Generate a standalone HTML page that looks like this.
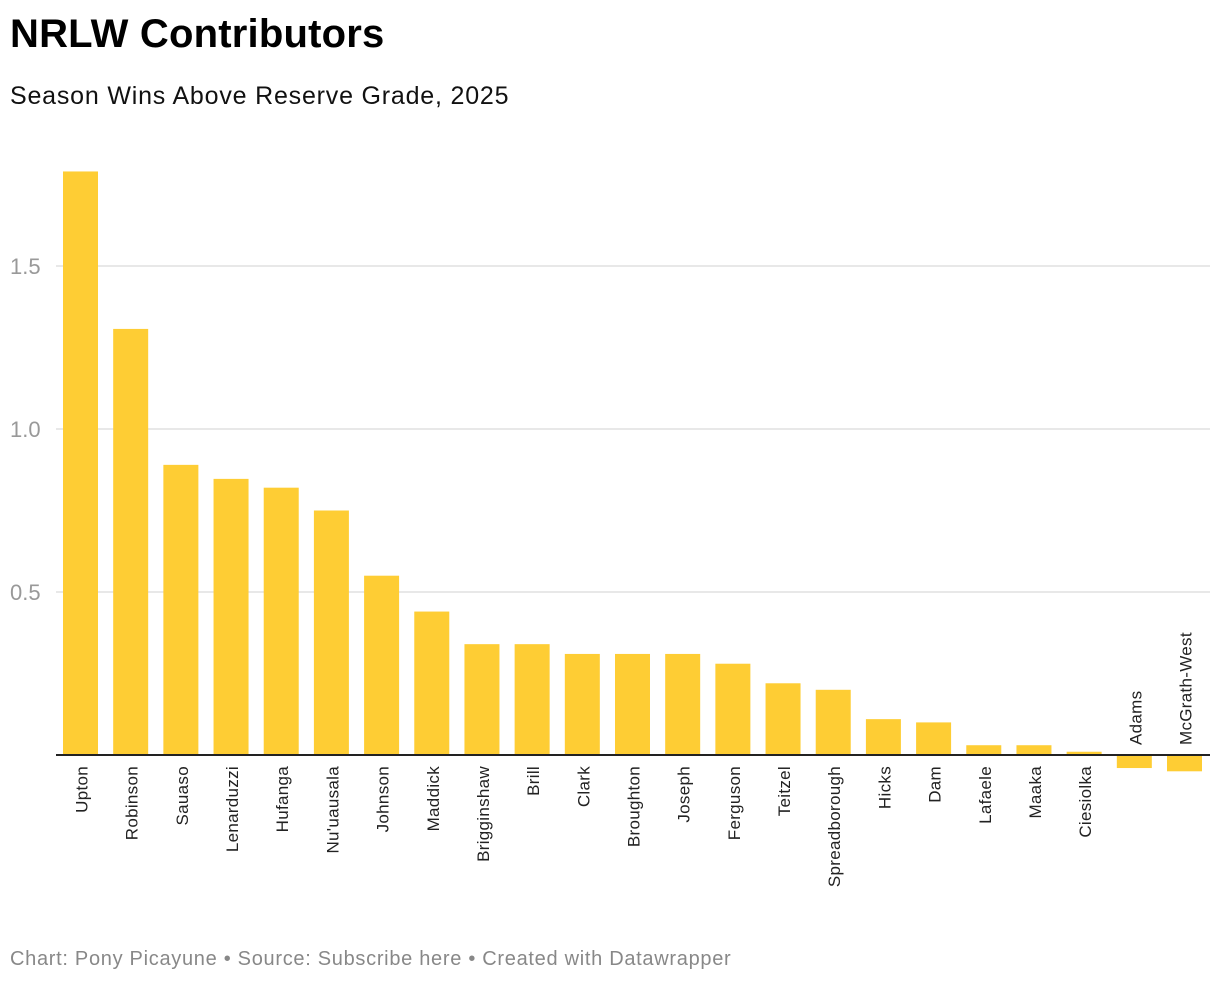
<!DOCTYPE html>
<html><head><meta charset="utf-8"><style>
body{margin:0;background:#fff;font-family:"Liberation Sans",sans-serif;}
#t{position:absolute;left:10px;top:12px;font-size:40px;font-weight:bold;color:#000;letter-spacing:0.2px}
#s{position:absolute;left:10px;top:82px;font-size:25px;color:#111;letter-spacing:0.8px}
#f{position:absolute;left:10px;top:948px;font-size:20px;color:#888;letter-spacing:0.7px}
svg{position:absolute;left:0;top:0}
</style></head><body>
<div id="t">NRLW Contributors</div>
<div id="s">Season Wins Above Reserve Grade, 2025</div>
<svg id="c" width="1220" height="984"></svg>
<div id="f">Chart: Pony Picayune • Source: Subscribe here • Created with Datawrapper</div>
<script>
const categories=["Upton","Robinson","Sauaso","Lenarduzzi","Hufanga","Nu'uausala","Johnson","Maddick","Brigginshaw","Brill","Clark","Broughton","Joseph","Ferguson","Teitzel","Spreadborough","Hicks","Dam","Lafaele","Maaka","Ciesiolka","Adams","McGrath-West"];
const values=[1.79,1.307,0.89,0.847,0.82,0.75,0.55,0.44,0.34,0.34,0.31,0.31,0.31,0.28,0.22,0.20,0.11,0.10,0.03,0.03,0.01,-0.04,-0.05];
const ticks=[0.5,1.0,1.5];
const tickLabels=["0.5","1.0","1.5"];
const NS="http://www.w3.org/2000/svg";
const svg=document.getElementById('c');
const y0=755,pxPerUnit=326;
const y=v=>y0-v*pxPerUnit;
function mk(tag,attrs){const e=document.createElementNS(NS,tag);for(const k in attrs)e.setAttribute(k,attrs[k]);svg.appendChild(e);return e;}
ticks.forEach((t,i)=>{
 const l=mk('line',{x1:56,x2:1210,y1:y(t),y2:y(t),stroke:'#e0e0e0','stroke-width':1.5});
 
 
 const tx=mk('text',{x:10,y:y(t)+8,'font-size':22,fill:'#999','font-family':'Liberation Sans, sans-serif'});
 tx.textContent=tickLabels[i];
 
 
});
const W=35,xs=i=>63+i*1104/(categories.length-1);
categories.forEach((c,i)=>{
 const v=values[i];
 const r=mk('rect',{x:xs(i),y:Math.min(y(v),y0),width:W,height:Math.abs(y(v)-y0),fill:'#fecd34'});
 
 
 const cx=xs(i)+W/2+7;
 const neg=v<0;
 const ly=neg?y0-10:y0+11;
 const tx=mk('text',{x:0,y:0,'font-size':17,'letter-spacing':0.3,fill:'#222','text-anchor':neg?'start':'end',transform:`translate(${cx},${ly}) rotate(-90)`,'font-family':'Liberation Sans, sans-serif'});
 tx.textContent=c;
 
 
});
const z=mk('line',{x1:56,x2:1210,y1:y0,y2:y0,stroke:'#222','stroke-width':2});


</script>
</body></html>
